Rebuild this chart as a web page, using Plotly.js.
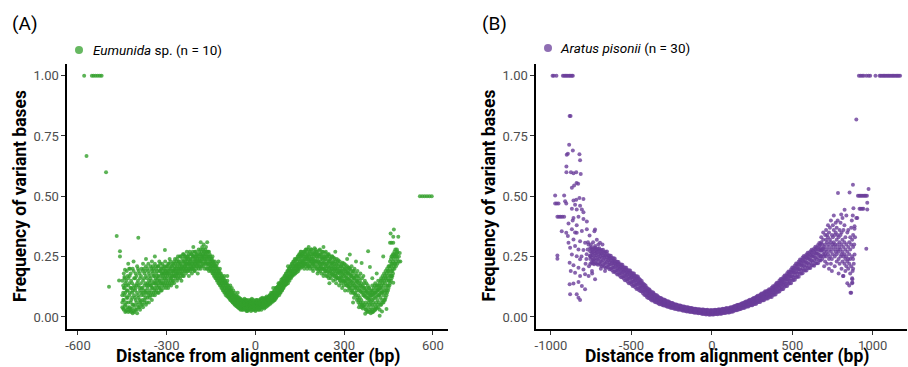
<!DOCTYPE html>
<html>
<head>
<meta charset="utf-8">
<script src="https://cdn.plot.ly/plotly-3.0.1.min.js"></script>
<style>html,body{margin:0;padding:0;background:#fff;}#chart{width:908px;height:367px;}</style>
</head>
<body>
<div id="chart"></div>
<script>
// ---------- DATA ----------
const panelLabels = ["(A)", "(B)"];
const seriesNames = ["<i>Eumunida</i> sp. (n = 10)", "<i>Aratus pisonii</i> (n = 30)"];
const seriesColors = ["#33a02c", "#6a3d9a"];
const xTickValsA = [-600, -300, 0, 300, 600];
const xTickTextA = ["-600", "-300", "0", "300", "600"];
const xTickValsB = [-1000, -500, 0, 500, 1000];
const xTickTextB = ["-1000", "-500", "0", "500", "1000"];
const yTickVals = [0, 0.25, 0.5, 0.75, 1];
const yTickText = ["0.00", "0.25", "0.50", "0.75", "1.00"];
const xTitle = "Distance from alignment center (bp)";
const yTitle = "Frequency of variant bases";

// Panel A (Eumunida sp.): rows of [position, freq, freq, ...]
const eumunidaRows = [
[-450,.04,.09,.15,.06],[-445,.03,.12,.07,.18],[-440,.05,.02,.14,.1],[-435,.03,.08,.19,.11],[-430,.02,.13,.06,.16],
[-425,.04,.1,.17,.025],[-420,.02,.07,.15,.12],[-415,.015,.11,.2,.05],[-410,.02,.09,.16,.13],[-405,.03,.18,.07,.12],
[-400,.015,.1,.21,.14],[-395,.04,.13,.08,.19],[-390,.03,.16,.11,.06],[-385,.05,.12,.2,.09],[-380,.04,.15,.1,.22],
[-375,.07,.13,.18,.06],[-370,.05,.17,.11,.21],[-365,.08,.14,.2,.12],[-360,.06,.1,.18,.15],[-355,.09,.16,.21,.13],
[-350,.07,.12,.19,.23],[-345,.1,.17,.14,.2],[-340,.09,.15,.22,.12],[-335,.11,.18,.13,.2],[-330,.1,.16,.21,.14],
[-325,.12,.19,.15,.23],[-320,.11,.17,.2,.14],[-315,.13,.16,.22,.18],[-310,.12,.2,.15,.18],[-305,.14,.17,.23,.19],
[-300,.13,.18,.21,.16],[-295,.15,.19,.12,.22],[-290,.14,.2,.17,.24],[-285,.16,.18,.21,.13],[-280,.15,.22,.19,.17],
[-275,.17,.2,.14,.23],[-270,.16,.19,.22,.18],[-265,.18,.21,.15,.24],[-260,.17,.2,.23,.19],[-255,.19,.16,.22,.25],
[-250,.18,.21,.2,.15],[-245,.2,.23,.17,.26],[-240,.19,.22,.21,.25],[-235,.2,.18,.24,.22],[-230,.21,.19,.25,.23],
[-225,.2,.22,.17,.26],[-220,.21,.24,.19,.23],[-215,.22,.2,.26,.18],[-210,.21,.23,.25,.2],[-205,.22,.24,.19,.27],
[-200,.23,.21,.26,.2],[-195,.22,.25,.23,.18],[-190,.24,.21,.27,.23],[-185,.23,.26,.2,.28],[-180,.22,.25,.29,.24],
[-175,.24,.21,.27,.3],[-170,.23,.26,.22,.28],[-165,.24,.2,.27,.25],[-160,.22,.25,.21,.27],[-155,.23,.2,.24,.26],
[-150,.21,.24,.19,.22],[-145,.2,.23,.18,.25],[-140,.19,.22,.17,.21],[-135,.18,.21,.16,.2],[-130,.17,.2,.15,.22],
[-125,.16,.19,.14,.18],[-120,.15,.18,.13,.2],[-115,.14,.17,.12,.16],[-110,.13,.16,.11,.15],[-105,.12,.15,.1,.17],
[-100,.11,.14,.09,.13],[-95,.1,.13,.085,.15],[-90,.09,.12,.08,.11],[-85,.085,.11,.07,.13],[-80,.08,.1,.065,.12],
[-75,.07,.09,.06,.11],[-70,.065,.08,.05,.1],[-65,.06,.075,.045,.09],[-60,.055,.07,.04,.085],[-55,.05,.065,.035,.08],
[-50,.045,.06,.03,.075],[-45,.05,.04,.065,.03],[-40,.045,.06,.035,.07],[-35,.04,.055,.03,.065],[-30,.045,.05,.025,.07],
[-25,.04,.06,.03,.055],[-20,.045,.035,.065,.05],[-15,.04,.055,.025,.07],[-10,.05,.035,.06,.045],[-5,.045,.03,.065,.055],
[0,.04,.06,.025,.05],[5,.05,.035,.07,.045],[10,.045,.06,.03,.055],[15,.05,.04,.065,.035],[20,.055,.045,.07,.03],
[25,.05,.06,.04,.075],[30,.055,.045,.07,.035],[35,.06,.05,.075,.04],[40,.065,.055,.08,.045],[45,.07,.06,.085,.05],
[50,.075,.065,.09,.055],[55,.08,.07,.095,.06],[60,.085,.075,.1,.065],[65,.09,.08,.11,.07],[70,.1,.085,.12,.08],
[75,.105,.09,.125,.095],[80,.115,.1,.135,.09],[85,.12,.11,.145,.1],[90,.13,.115,.15,.11],[95,.14,.125,.16,.12],
[100,.15,.135,.17,.13],[105,.155,.14,.18,.135],[110,.165,.15,.19,.14],[115,.175,.16,.2,.15],[120,.185,.17,.21,.16],
[125,.19,.175,.22,.17],[130,.2,.18,.23,.175],[135,.21,.19,.235,.18],[140,.215,.195,.24,.185],[145,.22,.2,.25,.19],
[150,.23,.21,.26,.2],[155,.225,.205,.255,.27],[160,.235,.21,.26,.22],[165,.24,.215,.27,.2],[170,.23,.25,.21,.28],
[175,.245,.22,.265,.2],[180,.235,.255,.21,.29],[185,.24,.22,.27,.2],[190,.25,.23,.28,.21],[195,.24,.22,.265,.19],
[200,.235,.26,.21,.285],[205,.23,.25,.2,.27],[210,.24,.22,.26,.18],[215,.225,.25,.2,.275],[220,.23,.21,.26,.19],
[225,.22,.245,.2,.27],[230,.225,.2,.25,.17],[235,.215,.24,.19,.265],[240,.22,.2,.25,.17],[245,.21,.235,.185,.26],
[250,.205,.23,.18,.25],[255,.21,.19,.24,.16],[260,.2,.225,.175,.25],[265,.195,.22,.17,.245],[270,.2,.18,.23,.155],
[275,.19,.215,.165,.24],[280,.185,.21,.16,.235],[285,.18,.2,.15,.23],[290,.185,.165,.21,.14],[295,.175,.2,.15,.225],
[300,.17,.195,.145,.22],[305,.165,.19,.14,.215],[310,.16,.185,.13,.21],[315,.155,.18,.125,.205],[320,.15,.175,.12,.2],
[325,.145,.17,.11,.21],[330,.14,.165,.1,.19],[335,.13,.16,.095,.2],[340,.125,.15,.09,.18],[345,.12,.145,.08,.19],
[350,.11,.14,.07,.17],[355,.105,.13,.06,.18],[360,.1,.125,.05,.16],[365,.09,.12,.045,.17],[370,.085,.11,.04,.15],
[375,.08,.105,.03,.14],[380,.075,.1,.025,.13],[385,.07,.095,.02,.12],[390,.065,.09,.015,.11],[395,.07,.1,.02,.13],
[400,.075,.095,.025,.12],[405,.08,.1,.03,.14],[410,.085,.11,.035,.13],[415,.09,.115,.04,.15],[420,.095,.12,.03,.14],
[425,.1,.13,.05,.16],[430,.105,.14,.06,.17],[435,.11,.15,.07,.18],[440,.12,.16,.08,.19],[445,.13,.17,.1,.2],
[450,.15,.19,.12,.21],[455,.17,.2,.14,.23],[460,.19,.22,.16,.25],[465,.2,.23,.18,.26],[470,.22,.25,.2,.27],
[475,.23,.26,.21],[480,.24,.27,.22],[485,.25,.23]
];
// second pass of readings between the rows above
const eumunidaRows2 = [
[-447,.07,.13,.035,.1],[-442,.16,.045,.09,.12],[-437,.06,.15,.025,.13],[-432,.11,.04,.17,.08],[-427,.035,.14,.09,.2],
[-422,.06,.12,.18,.03],[-417,.1,.035,.14,.08],[-412,.12,.05,.19,.025],[-407,.08,.16,.045,.11],[-402,.13,.03,.17,.06],
[-397,.09,.15,.05,.2],[-392,.12,.07,.18,.04],[-387,.1,.14,.065,.17],[-382,.07,.12,.19,.05],[-377,.11,.16,.09,.2],
[-372,.14,.08,.19,.1],[-367,.1,.16,.06,.13],[-362,.13,.19,.09,.22],[-357,.11,.17,.08,.14],[-352,.15,.1,.2,.13],
[-347,.12,.18,.09,.21],[-342,.14,.11,.19,.17],[-337,.16,.1,.21,.14],[-332,.12,.19,.15,.17],[-327,.17,.13,.21,.1],
[-322,.15,.19,.12,.22],[-317,.18,.14,.2,.11],[-312,.14,.21,.17,.19],[-307,.16,.13,.21,.18],[-302,.19,.15,.2,.12],
[-297,.17,.21,.14,.18],[-292,.18,.13,.22,.19],[-287,.2,.16,.23,.15],[-282,.17,.21,.19,.14],[-277,.19,.15,.22,.18],
[-272,.21,.17,.24,.2],[-267,.19,.23,.17,.2],[-262,.22,.18,.25,.16],[-257,.2,.23,.18,.21],[-252,.22,.17,.25,.2],
[-247,.21,.24,.19,.18],[-242,.23,.2,.26,.17],[-237,.21,.25,.19,.23],[-232,.24,.2,.22,.27],[-227,.22,.25,.19,.24],
[-222,.23,.2,.27,.22],[-217,.24,.21,.26,.2],[-212,.22,.25,.2,.27],[-207,.25,.21,.23,.19],[-202,.24,.27,.22,.25],
[-197,.21,.24,.26,.23],[-192,.25,.22,.28,.2],[-187,.24,.21,.26,.23],[-182,.27,.23,.25,.21],[-177,.25,.22,.28,.26],
[-172,.24,.27,.2,.25],[-167,.26,.22,.29,.23],[-162,.24,.27,.22,.2],[-157,.22,.25,.19,.27],[-152,.25,.21,.23,.2],
[-147,.22,.19,.24,.21],[-142,.2,.23,.18,.22],[-137,.21,.17,.23,.19],[-132,.19,.16,.21,.18],[-127,.18,.15,.2,.17],
[-122,.17,.14,.19,.16],[-117,.16,.13,.18,.15],[-112,.14,.17,.12,.15],[-107,.13,.16,.11,.14],[-102,.12,.15,.1,.14],
[-97,.11,.14,.095,.12],[-92,.1,.13,.085,.115],[-87,.095,.12,.075,.105],[-82,.09,.11,.07,.1],[-77,.08,.1,.06,.09],
[-72,.075,.09,.055,.085],[-67,.07,.085,.05,.06],[-62,.06,.08,.045,.07],[-57,.055,.075,.04,.065],[-52,.05,.07,.035,.06],
[-47,.045,.07,.055,.035],[-42,.05,.065,.04,.03],[-37,.06,.045,.075,.035],[-32,.035,.06,.05,.07],[-27,.05,.065,.025,.04],
[-22,.06,.04,.03,.07],[-17,.035,.05,.065,.06],[-12,.06,.03,.045,.075],[-7,.04,.055,.07,.03],[-2,.055,.035,.065,.045],
[3,.06,.04,.03,.07],[8,.035,.055,.065,.05],[13,.06,.04,.07,.03],[18,.04,.06,.05,.075],[23,.065,.04,.055,.08],
[28,.04,.075,.06,.05],[33,.07,.045,.065,.08],[38,.05,.075,.065,.085],[43,.06,.08,.07,.05],[48,.08,.06,.09,.07],
[53,.065,.09,.075,.1],[58,.09,.07,.1,.08],[63,.08,.105,.09,.07],[68,.09,.12,.1,.075],[73,.12,.095,.11,.085],
[78,.1,.13,.115,.14],[83,.12,.1,.14,.125],[88,.13,.11,.155,.14],[93,.12,.16,.135,.145],[98,.15,.13,.17,.14],
[103,.14,.165,.18,.15],[108,.17,.15,.19,.16],[113,.16,.185,.2,.17],[118,.19,.165,.21,.17],[123,.18,.2,.22,.19],
[128,.21,.18,.23,.2],[133,.19,.22,.21,.24],[138,.22,.2,.24,.21],[143,.21,.23,.25,.2],[148,.24,.21,.26,.22],
[153,.22,.25,.24,.27],[158,.26,.23,.21,.25],[163,.23,.27,.25,.22],[168,.26,.22,.24,.27],[173,.22,.25,.28,.24],
[178,.26,.21,.24,.28],[183,.23,.27,.25,.21],[188,.26,.23,.28,.24],[193,.22,.26,.24,.2],[198,.25,.22,.27,.23],
[203,.21,.26,.23,.28],[208,.25,.2,.23,.27],[213,.23,.26,.21,.19],[218,.25,.22,.28,.2],[223,.21,.24,.26,.18],
[228,.24,.2,.27,.22],[233,.2,.23,.25,.18],[238,.24,.21,.19,.27],[243,.22,.19,.25,.17],[248,.23,.2,.26,.16],
[253,.19,.22,.24,.17],[258,.22,.18,.25,.2],[263,.18,.21,.23,.15],[268,.21,.17,.24,.19],[273,.17,.2,.22,.14],
[278,.2,.16,.23,.18],[283,.16,.19,.22,.13],[288,.19,.15,.21,.17],[293,.16,.19,.12,.22],[298,.18,.15,.21,.13],
[303,.15,.18,.11,.2],[308,.17,.13,.2,.15],[313,.14,.18,.11,.19],[318,.16,.12,.2,.14],[323,.13,.17,.1,.19],
[328,.15,.11,.18,.13],[333,.12,.16,.08,.19],[338,.14,.1,.17,.12],[343,.11,.15,.07,.17],[348,.13,.09,.16,.06],
[353,.08,.12,.15,.05],[358,.11,.07,.14,.04],[363,.06,.1,.13,.035],[368,.09,.05,.12,.14],[373,.06,.1,.03,.12],
[378,.09,.05,.11,.02],[383,.04,.08,.12,.06],[388,.08,.03,.1,.05],[393,.05,.09,.11,.03],[398,.09,.04,.11,.06],
[403,.05,.1,.03,.13],[408,.1,.06,.12,.04],[413,.07,.11,.05,.13],[418,.11,.06,.13,.09],[423,.08,.12,.05,.15],
[428,.12,.07,.15,.1],[433,.09,.13,.06,.16],[438,.14,.1,.17,.07],[443,.11,.15,.18,.09],[448,.16,.13,.19,.11],
[453,.18,.15,.21,.13],[458,.21,.17,.24,.15],[463,.22,.19,.25,.17],[468,.24,.21,.26],[473,.25,.22,.28],[478,.25,.28]
];
const eumunidaExtra = [
[-579,1],[-553,1],[-547,1],[-540,1],[-533,1],[-526,1],[-520,1],[-571,.667],[-505,.6],
[556,.5],[564,.5],[572,.5],[580,.5],[588,.5],[596,.5],
[-469,.335],[-396,.328],[-458,.272],[-458,.25],[-495,.125],[-461,.151],[-443,.166],[-441,.196],[-424,.2],
[-306,.277],[-266,.125],[468,.362],[457,.346],[466,.332],[483,.332],[455,.307],[460,.307],[466,.307],
[479,.265],[488,.265],[490,.23],[381,.272],[432,.25],[319,.259],[359,.224],[387,.207],[460,.169],
[466,.142],[362,.047],[371,.013],[397,.02],[428,.023],[443,.033],[-185,.31],[-163,.31],
[-430,.22],[-412,.23],[-370,.24],[-340,.25],[-210,.29],[-125,.23],[-95,.17],[-60,.1],[60,.12],[110,.21],
[230,.29],[270,.27],[310,.24],[340,.23],[330,.06],[350,.04],[395,.16],[410,.18],[420,.005],[250,.14]
];

// Panel B (Aratus pisonii): rows of [position, freq, freq, ...]
const aratusRows = [
[-756,.219,.24,.254,.272,.286],[-748,.226,.247,.265,.279,.289],[-740,.222,.236,.257,.267,.281],
[-732,.218,.239,.253,.271,.285],[-724,.224,.245,.263,.277,.287],[-716,.22,.235,.256,.266,.28],
[-708,.216,.237,.251,.269,.283],[-700,.222,.243,.261,.275,.285],[-692,.216,.23,.252,.262,.276],
[-684,.21,.231,.245,.263,.277],[-676,.215,.236,.254,.268,.278],[-668,.208,.222,.244,.254,.268],
[-660,.203,.224,.238,.256,.27],[-652,.208,.229,.247,.261,.271],[-644,.205,.217,.235,.244,.256],
[-636,.198,.216,.228,.243,.255],[-628,.2,.218,.233,.245,.254],[-620,.193,.205,.223,.232,.244],
[-612,.186,.204,.216,.231,.243],[-604,.188,.206,.221,.233,.242],[-596,.183,.194,.211,.219,.23],
[-588,.176,.193,.204,.218,.229],[-580,.178,.194,.208,.22,.228],[-572,.171,.182,.199,.207,.218],
[-564,.164,.181,.192,.206,.217],[-556,.166,.182,.196,.208,.216],[-548,.159,.17,.187,.195,.206],
[-540,.152,.169,.18,.194,.205],[-532,.154,.17,.184,.196,.204],[-524,.147,.158,.175,.183,.194],
[-516,.14,.157,.168,.182,.193],[-508,.142,.158,.172,.184,.192],[-500,.135,.146,.163,.171,.182],
[-492,.128,.145,.156,.17,.181],[-484,.13,.146,.16,.172,.18],[-476,.123,.134,.151,.159,.17],
[-468,.116,.133,.144,.158,.169],[-460,.118,.134,.148,.16,.168],[-452,.111,.122,.139,.147,.158],
[-444,.107,.121,.131,.143,.153],[-436,.106,.12,.132,.142,.149],[-428,.098,.108,.122,.13,.139],
[-420,.092,.105,.114,.125,.134],[-412,.09,.104,.115,.123,.13],[-404,.083,.092,.105,.112,.121],
[-396,.078,.09,.098,.108,.116],[-388,.078,.09,.1,.108,.114],[-380,.072,.08,.092,.098,.106],
[-372,.068,.079,.086,.095,.102],[-364,.069,.079,.088,.096,.101],[-356,.063,.07,.081,.086,.093],
[-348,.061,.071,.077,.085,.091],[-340,.06,.07,.078,.084,.089],[-332,.056,.062,.072,.076,.083],
[-324,.053,.061,.067,.074,.08],[-316,.054,.062,.069,.075,.079],[-308,.049,.055,.063,.068,.073],
[-300,.047,.055,.06,.067,.072],[-292,.048,.055,.062,.067,.071],[-284,.044,.05,.057,.061,.066],
[-276,.042,.049,.054,.06,.065],[-268,.042,.05,.056,.06,.064],[-260,.039,.044,.051,.055,.06],
[-252,.037,.044,.048,.054,.058],[-244,.038,.045,.05,.055,.058],[-236,.035,.04,.046,.049,.054],
[-228,.033,.039,.043,.048,.052],[-220,.034,.04,.045,.049,.052],[-212,.031,.035,.041,.044,.048],
[-204,.03,.035,.039,.044,.047],[-196,.031,.036,.041,.044,.047],[-188,.029,.032,.038,.041,.044],
[-180,.026,.031,.035,.04,.043],[-172,.027,.032,.037,.04,.043],[-164,.025,.028,.034,.037,.04],
[-156,.023,.028,.032,.037,.04],[-148,.024,.029,.034,.037,.04],[-140,.022,.025,.031,.034,.037],
[-132,.02,.025,.029,.034,.037],[-124,.021,.026,.031,.034,.037],[-116,.019,.022,.028,.031,.034],
[-108,.017,.022,.026,.031,.034],[-100,.018,.023,.028,.031,.034],[-92,.017,.02,.026,.029,.032],
[-84,.015,.02,.024,.029,.032],[-76,.016,.021,.026,.029,.032],[-68,.015,.018,.024,.027,.03],
[-60,.012,.018,.022,.027,.031],[-52,.013,.019,.024,.028,.031],[-44,.012,.016,.022,.025,.029],
[-36,.01,.016,.02,.025,.029],[-28,.012,.018,.023,.027,.03],[-20,.01,.014,.02,.023,.027],
[-12,.009,.015,.019,.024,.028],[-4,.011,.017,.022,.026,.029],[4,.01,.014,.02,.023,.027],
[12,.01,.016,.02,.025,.029],[20,.012,.018,.023,.027,.03],[28,.012,.016,.022,.025,.029],
[36,.011,.017,.021,.026,.03],[44,.014,.02,.025,.029,.032],[52,.013,.017,.023,.026,.03],
[60,.013,.019,.023,.028,.032],[68,.016,.022,.027,.031,.034],[76,.016,.02,.026,.029,.033],
[84,.016,.022,.026,.031,.035],[92,.019,.025,.03,.034,.037],[100,.018,.022,.028,.031,.035],
[108,.018,.024,.028,.033,.037],[116,.022,.028,.033,.037,.04],[124,.022,.026,.032,.035,.039],
[132,.023,.029,.033,.038,.042],[140,.027,.033,.038,.042,.045],[148,.028,.032,.038,.041,.045],
[156,.028,.035,.039,.045,.049],[164,.031,.038,.043,.048,.051],[172,.032,.037,.043,.046,.051],
[180,.033,.04,.044,.05,.054],[188,.037,.044,.049,.054,.057],[196,.037,.042,.049,.053,.058],
[204,.038,.045,.05,.056,.061],[212,.042,.05,.056,.06,.064],[220,.043,.048,.055,.059,.064],
[228,.043,.051,.056,.063,.068],[236,.048,.055,.062,.067,.071],[244,.048,.054,.061,.065,.07],
[252,.048,.056,.062,.069,.075],[260,.054,.062,.069,.075,.079],[268,.054,.06,.068,.073,.078],
[276,.055,.064,.07,.078,.084],[284,.061,.07,.078,.084,.088],[292,.062,.068,.077,.081,.087],
[300,.062,.072,.078,.086,.092],[308,.068,.078,.086,.092,.097],[316,.069,.075,.085,.089,.096],
[324,.069,.079,.086,.095,.101],[332,.075,.086,.094,.101,.106],[340,.076,.083,.093,.098,.105],
[348,.076,.087,.094,.103,.11],[356,.083,.093,.102,.11,.115],[364,.084,.091,.102,.107,.114],
[372,.083,.095,.103,.113,.121],[380,.091,.103,.113,.121,.127],[388,.093,.101,.113,.119,.127],
[396,.093,.106,.115,.126,.135],[404,.102,.116,.127,.135,.142],[412,.104,.113,.126,.133,.142],
[420,.105,.119,.129,.141,.151],[428,.114,.128,.14,.15,.157],[436,.115,.125,.139,.147,.156],
[444,.116,.132,.142,.155,.165],[452,.125,.141,.154,.164,.172],[460,.128,.138,.154,.161,.172],
[468,.128,.145,.156,.17,.181],[476,.138,.154,.168,.18,.188],[484,.14,.151,.168,.176,.187],
[492,.14,.158,.17,.185,.197],[500,.151,.169,.184,.196,.205],[508,.153,.165,.183,.192,.204],
[516,.154,.173,.185,.2,.213],[524,.165,.184,.199,.212,.221],[532,.167,.18,.198,.207,.22],
[540,.167,.187,.2,.216,.23],[548,.179,.198,.215,.228,.238],[556,.18,.193,.213,.223,.236],
[564,.181,.201,.215,.232,.246],[572,.192,.212,.229,.243,.253],[580,.192,.206,.226,.237,.25],
[588,.192,.213,.227,.245,.259],[596,.203,.224,.242,.256,.266],[604,.203,.217,.239,.249,.264],
[612,.203,.225,.239,.257,.271],[620,.213,.235,.253,.267,.278],[628,.214,.228,.25,.26,.275],
[636,.212,.235,.25,.269,.284],[644,.223,.245,.264,.28,.291],[652,.223,.238,.261,.272,.287],
[660,.222,.246,.262,.282,.298],[668,.234,.258,.278,.294,.306],[676,.234,.25,.274,.286,.302],
[680,.275,.252,.31,.33],[686,.28,.24,.3],[692,.285,.26,.32,.35],[698,.29,.25,.27,.21],[704,.3,.26,.34,.23],
[710,.28,.32,.25,.36],[716,.31,.27,.22,.34],[722,.29,.33,.26,.38],[728,.3,.24,.35,.2],[734,.32,.28,.37,.25],
[740,.31,.27,.4,.22],[746,.29,.34,.24,.19],[752,.33,.3,.38,.26],[758,.31,.28,.36,.42],[764,.3,.25,.34,.21],
[770,.35,.29,.39,.27],[776,.32,.26,.37,.23],[782,.3,.34,.28,.4],[788,.27,.33,.24,.18],[794,.31,.36,.29,.22],
[800,.28,.34,.25,.39],[806,.3,.26,.35,.2],[812,.27,.32,.23,.41],[818,.29,.25,.36,.17],[824,.26,.31,.22,.38],
[830,.28,.24,.33,.19],[836,.25,.3,.21,.42],[842,.27,.23,.35,.14],[848,.24,.29,.2,.36],[854,.26,.22,.31,.13],
[860,.28,.24,.33,.18],[866,.3,.21,.37,.1],[872,.25,.32,.16,.14],[878,.29,.24,.34,.2]
];
const aratusExtra = [
[-990,1],[-982,1],[-966,1],[-926,1],[-918,1],[-910,1],[-902,1],[-894,1],[-886,1],[-878,1],[-870,1],[-864,1],
[914,1],[924,1],[934,1],[944,1],[960,1],[974,1],[984,1],[1017,1],[1042,1],[1050,1],[1058,1],[1066,1],[1074,1],
[1082,1],[1090,1],[1098,1],[1106,1],[1114,1],[1122,1],[1130,1],[1138,1],[1146,1],[1154,1],[1162,1],[1170,1],
[-884,.833],[-878,.833],[898,.818],
[-887,.714],[-864,.69],[-902,.672],[-895,.676],[-823,.674],[-819,.649],[-904,.624],[-904,.6],[-876,.6],
[-860,.596],[-843,.6],[-815,.592],[-841,.555],[-831,.552],[-856,.545],[-870,.535],[-974,.503],[-918,.503],
[-974,.47],[-964,.47],[-953,.47],[-912,.48],[-905,.47],[-860,.483],[-843,.486],[-823,.493],[-798,.489],
[-850,.465],[-819,.461],[-870,.448],[-840,.445],[-808,.445],[-798,.434],[-960,.415],[-950,.415],[-940,.415],
[-930,.415],[-918,.415],[-860,.41],[-829,.415],[-798,.406],[-777,.396],[-891,.387],[-840,.38],[-933,.355],
[-905,.349],[-895,.335],[-870,.363],[-840,.349],[-808,.356],[-777,.363],[-760,.338],[-860,.321],[-819,.314],
[-788,.307],[-891,.307],[-881,.287],[-850,.294],[-829,.28],[-798,.277],[-767,.3],[-960,.255],[-960,.241],
[-870,.259],[-840,.252],[-819,.239],[-884,.225],[-860,.214],[-829,.204],[-798,.197],[-877,.19],[-850,.183],
[-819,.17],[-788,.177],[-884,.135],[-860,.139],[-829,.145],[-808,.128],[-881,.094],[-840,.094],[-819,.07],
[-829,.08],[-788,.115],[-757,.252],[-736,.232],[-726,.294],[-715,.32],[-695,.307],[-730,.355],[-726,.362],
[-726,.156],[-766,.17],[-745,.19],[-778,.26],[-785,.22],[-770,.31],[-810,.25],[-850,.35],[-865,.4],
[-780,.24],[-772,.28],[-764,.21],[-752,.3],[-744,.18],[-738,.31],[-706,.3],[-690,.2],[-680,.3],[-664,.19],
[877,.548],[784,.514],[856,.516],[908,.502],[916,.502],[924,.502],[932,.502],[940,.502],[948,.502],[956,.502],
[964,.502],[974,.53],[966,.473],[966,.445],[918,.448],[926,.448],[934,.448],[942,.448],[898,.41],[904,.41],
[887,.376],[887,.366],[887,.259],[960,.283],[862,.1],[873,.156],[873,.143],[815,.17],[880,.45],[876,.42],
[870,.4],[890,.33],[885,.3],[882,.22],[875,.19],[825,.444],[804,.425]
];

// ---------- BUILD ----------
function flatten(rowSets, extra) {
  const xs = [], ys = [];
  rowSets.forEach(rows => rows.forEach(r => {
    for (let i = 1; i < r.length; i++) { xs.push(r[0]); ys.push(r[i]); }
  }));
  extra.forEach(p => { xs.push(p[0]); ys.push(p[1]); });
  return {xs, ys};
}
const A = flatten([eumunidaRows, eumunidaRows2], eumunidaExtra);
const B = flatten([aratusRows], aratusExtra);

const traces = [
  {type:'scatter', mode:'markers', x:A.xs, y:A.ys, xaxis:'x', yaxis:'y',
   marker:{color:seriesColors[0], size:4, opacity:0.8}, hoverinfo:'skip'},
  {type:'scatter', mode:'markers', x:B.xs, y:B.ys, xaxis:'x2', yaxis:'y2',
   marker:{color:seriesColors[1], size:4, opacity:0.8}, hoverinfo:'skip'}
];

const W = 908, H = 367;
const yDom = [38/H, 303.4/H];
function xAxis(dom, range, tv, tt, anchor) {
  return {domain:dom, range:range, anchor:anchor, showline:true, linecolor:'#000', linewidth:1.6,
    ticks:'outside', ticklen:4, tickwidth:1, tickcolor:'#333', tickvals:tv, ticktext:tt,
    tickfont:{size:13, color:'#4d4d4d'}, showgrid:false, zeroline:false};
}
function yAxis(anchor) {
  return {domain:yDom, range:[-0.05,1.05], anchor:anchor, showline:true, linecolor:'#000', linewidth:1.6,
    ticks:'outside', ticklen:4, tickwidth:1, tickcolor:'#333', tickvals:yTickVals, ticktext:yTickText,
    tickfont:{size:13, color:'#4d4d4d'}, showgrid:false, zeroline:false};
}
const titleFont = {size:17.5, color:'#000', weight:700};
function ann(text, x, y, font, extra) {
  return Object.assign({text:text, xref:'paper', yref:'paper', x:x/W, y:1-y/H, xanchor:'left',
    yanchor:'middle', showarrow:false, font:font}, extra || {});
}

const layout = {
  width:W, height:H, margin:{l:0, r:0, t:0, b:0},
  paper_bgcolor:'#fff', plot_bgcolor:'#fff',
  font:{family:'Roboto, sans-serif', color:'#000'},
  showlegend:false,
  xaxis: xAxis([67/W, 448/W], [-637, 651], xTickValsA, xTickTextA, 'y'),
  yaxis: yAxis('x'),
  xaxis2: xAxis([536/W, 907/W], [-1093, 1213], xTickValsB, xTickTextB, 'y2'),
  yaxis2: yAxis('x2'),
  annotations: [
    ann(panelLabels[0], 10, 24, {size:19, color:'#000'}),
    ann(panelLabels[1], 480, 24, {size:19, color:'#000'}),
    ann(seriesNames[0], 91, 50, {size:13.5, color:'#000'}),
    ann(seriesNames[1], 558, 48, {size:13.5, color:'#000'}),
    ann(xTitle, 257.5, 356.5, titleFont, {xanchor:'center'}),
    ann(xTitle, 726.5, 356.5, titleFont, {xanchor:'center'}),
    ann(yTitle, 20, 196, titleFont, {xanchor:'center', textangle:-90}),
    ann(yTitle, 488.5, 196, titleFont, {xanchor:'center', textangle:-90})
  ],
  shapes: [
    {type:'circle', xref:'paper', yref:'paper', xsizemode:'pixel', ysizemode:'pixel',
     xanchor:79/W, yanchor:1-50/H, x0:-4, x1:4, y0:-4, y1:4,
     fillcolor:seriesColors[0], opacity:0.75, line:{width:0}},
    {type:'circle', xref:'paper', yref:'paper', xsizemode:'pixel', ysizemode:'pixel',
     xanchor:548/W, yanchor:1-48/H, x0:-4, x1:4, y0:-4, y1:4,
     fillcolor:seriesColors[1], opacity:0.75, line:{width:0}}
  ]
};

Plotly.newPlot('chart', traces, layout, {staticPlot:true, displayModeBar:false});
</script>
</body>
</html>
